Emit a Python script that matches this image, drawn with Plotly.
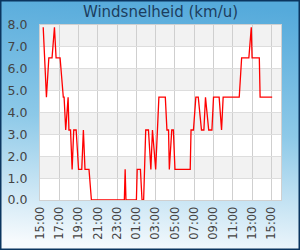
import base64
import plotly.graph_objects as go

day1 = "2023-06-01"
day2 = "2023-06-02"

times = [
    "15:20", "15:40", "15:55", "16:15", "16:30", "16:40", "17:05", "17:25", "17:30", "17:40",
    "17:55", "18:00", "18:10", "18:20", "18:30", "18:45", "19:00", "19:20", "19:30", "19:40",
    "20:05", "20:20", "23:45", "23:50", "23:55",
    "01:00", "01:05", "01:25", "01:35", "01:45", "01:58", "02:15", "02:30", "02:40", "03:00",
    "03:20", "04:00", "04:10", "04:20", "04:25", "04:40", "04:50", "05:00", "06:35", "06:40",
    "06:55", "07:10", "07:25", "07:45", "08:00", "08:10", "08:30", "08:50", "09:00", "09:35",
    "09:50", "10:00", "11:40", "11:55", "12:40", "12:55", "13:00", "13:45", "13:50", "15:05",
]
speeds = [
    7.9, 4.7, 6.5, 6.5, 7.9, 6.5, 6.5, 4.7, 4.7, 3.2,
    4.7, 3.2, 3.2, 1.4, 3.2, 3.2, 1.4, 1.4, 3.2, 1.4,
    1.4, 0.0, 0.0, 1.4, 0.0,
    0.0, 1.4, 1.4, 0.0, 0.0, 3.2, 3.2, 1.4, 3.2, 1.4,
    4.7, 4.7, 3.2, 3.2, 1.4, 3.2, 3.2, 1.4, 1.4, 3.2,
    3.2, 4.7, 4.7, 3.2, 3.2, 4.7, 3.2, 3.2, 4.7, 4.7,
    3.2, 4.7, 4.7, 6.5, 6.5, 7.9, 6.5, 6.5, 4.7, 4.7,
]
n_day1 = 25  # first 25 samples belong to day 1

title_text = "Windsnelheid (km/u)"
y_ticks = [0, 1, 2, 3, 4, 5, 6, 7, 8]

x = [f"{day1} {t}" if i < n_day1 else f"{day2} {t}" for i, t in enumerate(times)]

W, H = 300, 250
ml, mr, mt, mb = 40, 19, 25, 50
pw, ph = W - ml - mr, H - mt - mb

svg = f'''<svg xmlns="http://www.w3.org/2000/svg" width="{W}" height="{H}" viewBox="0 0 {W} {H}" preserveAspectRatio="none">
<defs><linearGradient id="g" x1="0.55" y1="0" x2="0.45" y2="1">
<stop offset="0" stop-color="#55aadb"/>
<stop offset="0.5" stop-color="#8dc9e8"/>
<stop offset="1" stop-color="#f6fafd"/>
</linearGradient></defs>
<rect x="0" y="0" width="{W}" height="{H}" fill="url(#g)"/>
<rect x="0.75" y="0.75" width="{W-1.5}" height="{H-1.5}" fill="none" stroke="#0b355f" stroke-width="1.5"/>
</svg>'''
src = "data:image/svg+xml;base64," + base64.b64encode(svg.encode()).decode()

fig = go.Figure()
fig.add_trace(go.Scatter(x=x, y=speeds, mode="lines",
                         line=dict(color="#ff0000", width=1.3), hoverinfo="skip"))

shapes = [dict(type="rect", xref="paper", yref="paper", x0=0, x1=1, y0=0, y1=1,
               fillcolor="#ffffff", line=dict(width=0), layer="below")]
for k in range(1, 8, 2):
    shapes.append(dict(type="rect", xref="paper", yref="y", x0=0, x1=1, y0=k, y1=k + 1,
                       fillcolor="#f2f2f2", line=dict(width=0), layer="below"))

fig.update_layout(
    width=W, height=H,
    margin=dict(l=ml, r=mr, t=mt, b=mb, pad=0, autoexpand=False),
    paper_bgcolor="#ffffff",
    plot_bgcolor="rgba(0,0,0,0)",
    showlegend=False,
    font=dict(family="DejaVu Sans", size=12, color="#444444"),
    title=dict(text=title_text, x=0.5, xref="paper", xanchor="center",
               y=1 - 12 / H, yref="container", yanchor="middle",
               font=dict(size=15, color="#1c3d5e")),
    images=[dict(source=src, xref="paper", yref="paper",
                 x=-ml / pw, y=1 + mt / ph, sizex=W / pw, sizey=H / ph,
                 xanchor="left", yanchor="top", sizing="stretch", layer="below")],
    shapes=shapes,
    xaxis=dict(
        type="date",
        range=[f"{day1} 15:00", f"{day2} 16:00"],
        tickformat="%H:%M", dtick=2 * 3600 * 1000,
        tick0=f"{day1} 15:00",
        tickangle=-90, automargin=False,
        showgrid=True, gridcolor="#cfcfcf", gridwidth=1.3,
        showline=True, linecolor="#d0d0d0", linewidth=1, mirror=True,
        ticks="", zeroline=False, ticklabelstandoff=1,
        tickfont=dict(size=11.5, color="#444444"),
    ),
    yaxis=dict(
        range=[0, 8], tickvals=y_ticks, tickformat=".1f", automargin=False,
        showgrid=True, gridcolor="#dddddd", gridwidth=1,
        showline=True, linecolor="#d0d0d0", linewidth=1, mirror=True,
        ticks="", zeroline=False, ticklabelstandoff=9,
        tickfont=dict(size=12.5, color="#444444"),
    ),
)

fig.write_html("out.html")
